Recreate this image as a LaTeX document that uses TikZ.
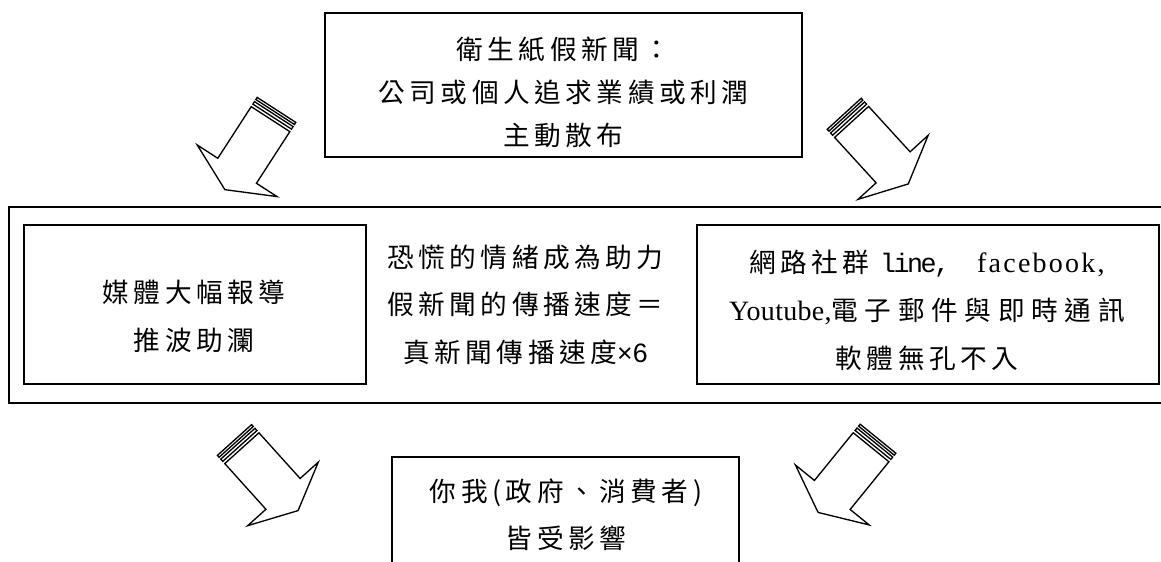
\documentclass[tikz,border=0pt]{standalone}
\usepackage{fontspec}
\setmainfont{Noto Sans CJK TC}[LetterSpace=17]
\newfontfamily\cjkwide{Noto Sans CJK TC}[LetterSpace=25]
\newfontfamily\lat{Liberation Serif}[LetterSpace=1]
\newfontfamily\latwide{Liberation Serif}[LetterSpace=8]
\newfontfamily\latsans{Liberation Sans}
\newfontfamily\mono{Liberation Mono}[LetterSpace=-9.4]
\begin{document}
\begin{tikzpicture}[x=0.75pt,y=0.75pt,
  box/.style={draw, line width=1.3pt, inner sep=0pt, outer sep=0pt},
  txt/.style={inner sep=0pt, align=center},
  cjktext/.style={txt, font=\fontsize{20}{36}\selectfont},
  cjktop/.style={txt, font=\fontsize{20}{32.25}\selectfont},
  arrowline/.style={draw, line width=1pt, fill=white, line join=miter},
  stripearrow/.pic={
    \path[arrowline] (0,-23) rectangle (2.5,23);
    \path[arrowline] (5,-23) rectangle (8,23);
    \path[arrowline] (11,-23) -- (72.5,-23) -- (72.5,-47.5) -- (95,0)
      -- (72.5,47.5) -- (72.5,23) -- (11,23) -- cycle;
  }]
\useasboundingbox (0,0) rectangle (1161,-561);
\clip (0,0) rectangle (1161,-561);
\fill[white] (0,0) rectangle (1161,-561);

% boxes
\node[box, minimum width=357.75pt, minimum height=108pt] (top) at (563.5,-85) {};
\node[box, minimum width=878.25pt, minimum height=147pt] (outer) at (594.5,-305) {};
\node[box, minimum width=256.5pt, minimum height=119.25pt] (left) at (195,-304.5) {};
\node[box, minimum width=346.5pt, minimum height=119.25pt] (right) at (928,-304.5) {};
\node[box, minimum width=260.25pt, minimum height=122.25pt] (bottom) at (565.5,-538.5) {};

% texts
\node[cjktop] (toptext) at (563.5,-92) {衛生紙假新聞：\\公司或個人追求業績或利潤\\主動散布};
\node[cjktext] (lefttext) at (194,-316) {媒體大幅報導\\推波助瀾};
\node[cjktext, font=\fontsize{20}{35.6}\selectfont] (midtext) at (525.5,-304.5) {恐慌的情緒成為助力\\假新聞的傳播速度＝\\真新聞傳播速度{\latsans ×6}};
\node[cjktext] (righttext) at (927,-310) {網路社群 {\mono line,\ \ }{\latwide\fontsize{21}{36}\selectfont facebook,}\\{\lat\fontsize{21}{36}\selectfont Youtube,}{\cjkwide 電子郵件與即時通訊}\\軟體無孔不入};
\node[cjktext, font=\fontsize{20}{35}\selectfont] (bottomtext) at (566,-515) {你我(政府、消費者)\\皆受影響};

% striped block arrows
\coordinate (ulA) at (276.5,-109.9);
\coordinate (urA) at (844.2,-113.8);
\coordinate (llA) at (234.5,-440);
\coordinate (lrA) at (878,-438.7);
\pic[rotate=237.1] at (ulA) {stripearrow};
\pic[rotate=-47.6] at (urA) {stripearrow};
\pic[rotate=-48] at (llA) {stripearrow};
\pic[rotate=230.9] at (lrA) {stripearrow};
\end{tikzpicture}
\end{document}
